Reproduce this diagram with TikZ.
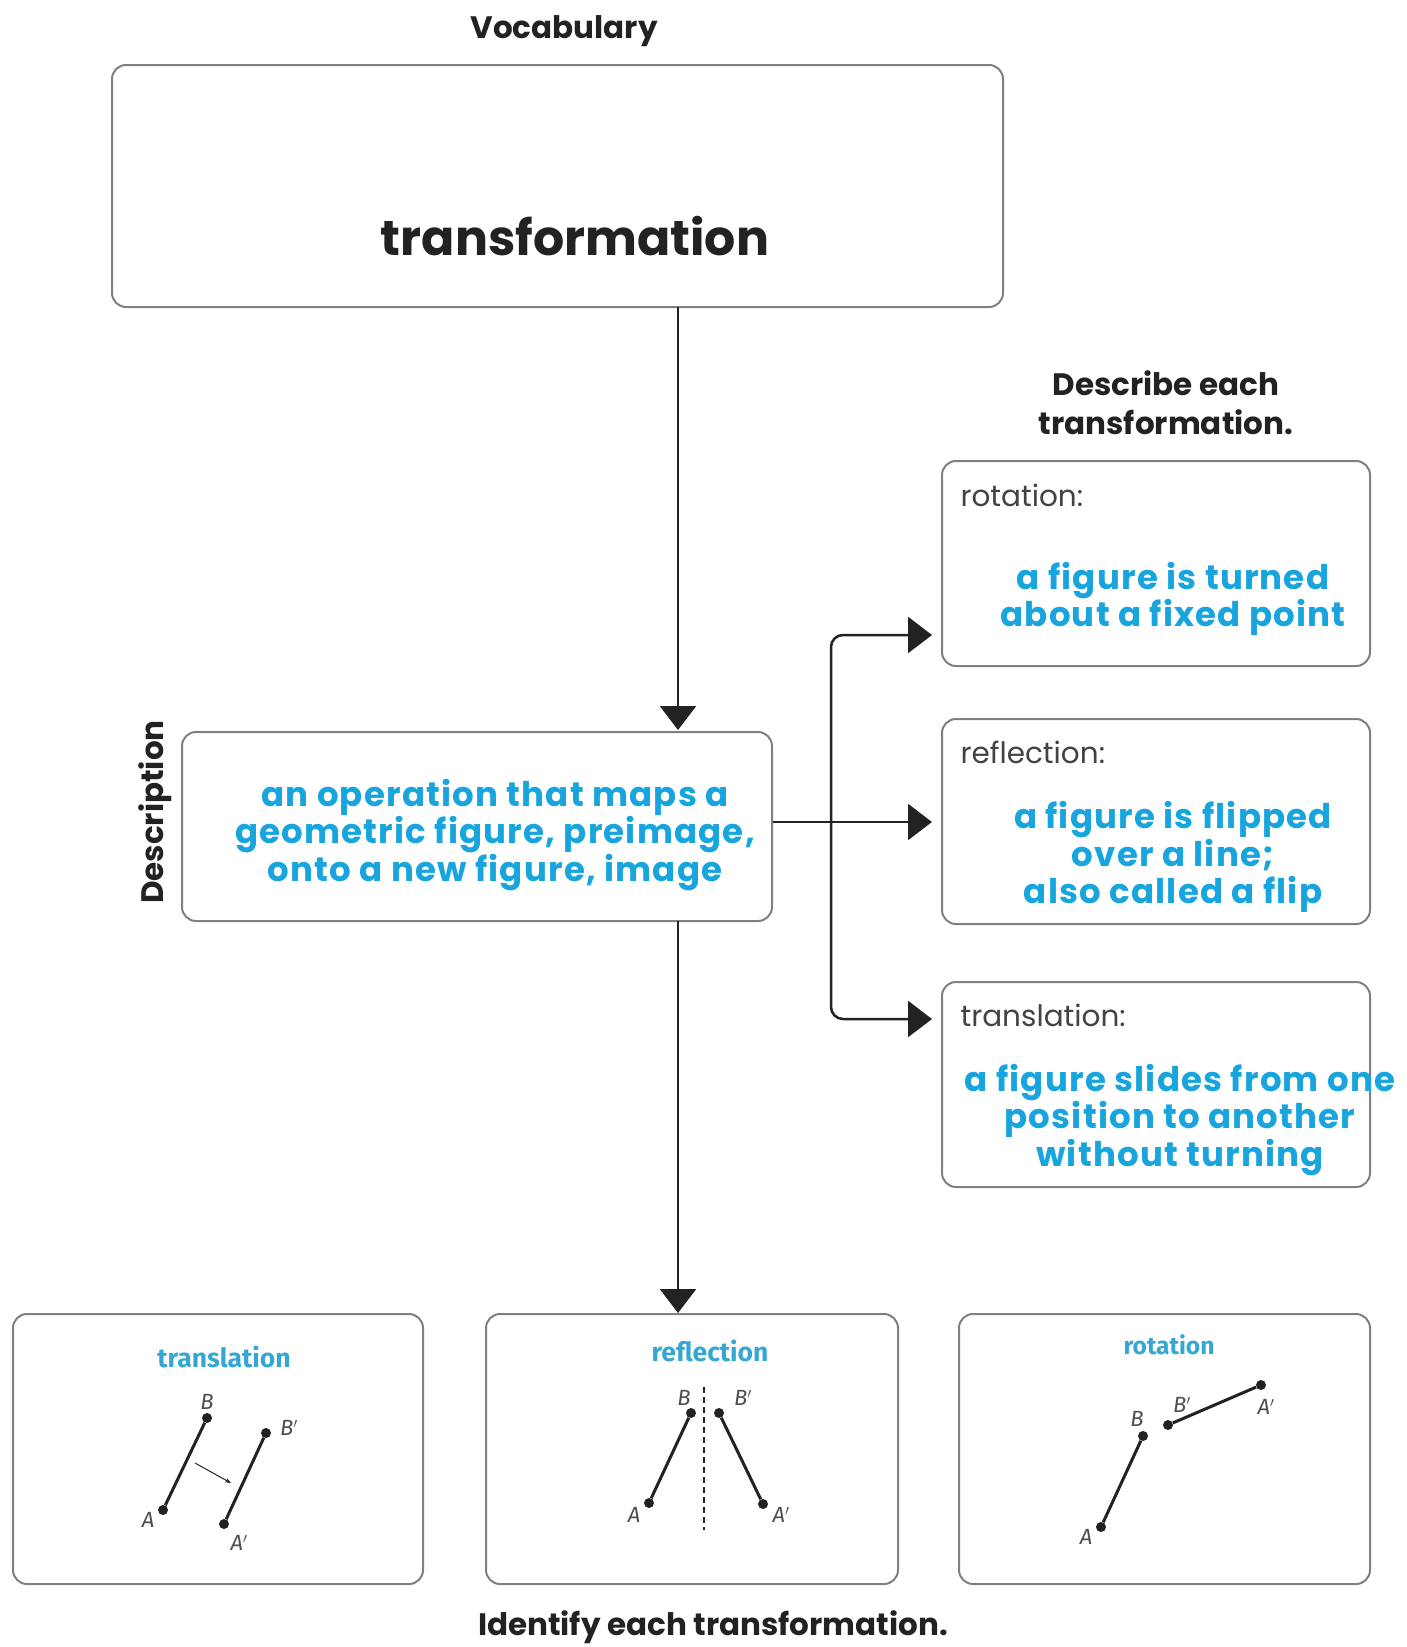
\documentclass[tikz,border=0pt]{standalone}
\usepackage{fontspec}
\setmainfont{Poppins}
\newfontfamily\figfont{Fira Sans}
\usetikzlibrary{arrows.meta,graphs}
\definecolor{ansblue}{HTML}{18A5DE}
\definecolor{tagblue}{HTML}{35A7D2}
\definecolor{boxgray}{HTML}{808080}
\definecolor{ink}{HTML}{222222}

\begin{document}
\begin{tikzpicture}[x=1pt,y=-1pt,
    box/.style={draw=boxgray,line width=2pt,rounded corners=14pt,inner sep=0pt},
    head/.style={font=\fontsize{31}{39}\selectfont\bfseries,text=ink,align=center},
    answer/.style={font=\fontsize{34}{37.5}\selectfont\bfseries\addfontfeatures{LetterSpace=3.5},text=ansblue,align=center},
    tag/.style={font=\fontsize{29.5}{33}\selectfont,text=ink!85,anchor=west},
    kind/.style={font=\figfont\fontsize{26.5}{30}\selectfont\bfseries,text=tagblue},
    flow/.style={ink,line width=2.5pt,-{Triangle[length=24pt,width=36pt]}},
    seg/.style={ink,line width=3pt},
    pt/.style={circle,fill=ink,inner sep=0pt,minimum size=10pt},
    lab/.style={font=\figfont\itshape\fontsize{22}{25}\selectfont,text=ink!80}]
  \useasboundingbox (0,0) rectangle (1406,1647);
    % word and description
    \node[head] (vocab) at (564,31) {Vocabulary};
    \node[box,minimum width=891pt,minimum height=242pt] (word) at (557.5,186) {};
    \node[font=\fontsize{49}{56}\selectfont\bfseries,text=ink] (term) at (575,236) {transformation};
    \node[box,minimum width=590pt,minimum height=189pt] (desc) at (477,826.5) {};
    \node[answer] (desctext) at (495,835) {an operation that maps a\\geometric figure, preimage,\\onto a new figure, image};
    \node[head,rotate=90] (desclab) at (155,812) {Description};
    % kinds, described
    \node[head] (ask) at (1166,403) {Describe each\\transformation.};
    \node[box,minimum width=428pt,minimum height=205pt] (rot) at (1156,563.5) {};
    \node[box,minimum width=428pt,minimum height=205pt] (refl) at (1156,821.5) {};
    \node[box,minimum width=428pt,minimum height=205pt] (trans) at (1156,1084.5) {};
    \node[tag] (rottag) at (957,495) {rotation:};
    \node[tag] (refltag) at (957,752) {reflection:};
    \node[tag] (transtag) at (957,1015) {translation:};
    \node[answer] (rottext) at (1173,599) {a figure is turned\\about a fixed point};
    \node[answer] (refltext) at (1173,857) {a figure is flipped\\over a line;\\also called a flip};
    \node[answer] (transtext) at (1180,1120) {a figure slides from one\\position to another\\without turning};
    % kinds, identified
    \node[box,minimum width=410pt,minimum height=270pt] (idl) at (218,1449) {};
    \node[box,minimum width=412pt,minimum height=270pt] (idm) at (692,1449) {};
    \node[box,minimum width=411pt,minimum height=270pt] (idr) at (1164.5,1449) {};
    \node[head] (idask) at (713,1627) {Identify each transformation.};
    \node[kind] (idltag) at (224,1357) {translation};
    \node[kind] (idmtag) at (710,1351) {reflection};
    \node[kind,font=\figfont\fontsize{24.5}{28}\selectfont\bfseries] (idrtag) at (1169,1345) {rotation};
    % connectors
    \coordinate (down1) at (678,307);
    \coordinate (down2) at (678,730);
    \coordinate (down3) at (678,921);
    \coordinate (down4) at (678,1313);
    \coordinate (split) at (831,822);
    \coordinate (rotin) at (932,635);
    \coordinate (reflin) at (932,822);
    \coordinate (transin) at (932,1019);
  \graph[use existing nodes,edges={flow}] {
    down1 -> down2;
    down3 -> down4;
  };
    \draw[flow] (desc.east |- split) -- (reflin);
    \draw[flow,rounded corners=12pt] (split) |- (rotin);
    \draw[flow,rounded corners=12pt] (split) |- (transin);
    % translation figure
    \node[pt] (tA) at (163,1510) {};
    \node[pt] (tB) at (207,1418) {};
    \node[pt] (tA2) at (224,1524) {};
    \node[pt] (tB2) at (266,1433) {};
    \draw[seg] (tA) -- (tB);
    \draw[seg] (tA2) -- (tB2);
    \coordinate (slide1) at (195,1463);
    \coordinate (slide2) at (231,1483);
    \draw[ink,line width=1pt,-{Stealth[length=6pt]}] (slide1) -- (slide2);
    \node[lab] at (148,1520) {A};
    \node[lab] at (207,1402) {B};
    \node[lab] at (239,1543) {A$'$};
    \node[lab] at (289,1428) {B$'$};
    % reflection figure
    \node[pt] (mA) at (649,1503) {};
    \node[pt] (mB) at (691,1413) {};
    \node[pt] (mA2) at (763,1504) {};
    \node[pt] (mB2) at (719,1413) {};
    \draw[seg] (mA) -- (mB);
    \draw[seg] (mA2) -- (mB2);
    \coordinate (mirror1) at (704,1387);
    \coordinate (mirror2) at (704,1530);
    \draw[ink,line width=1.2pt,dash pattern=on 6pt off 4pt] (mirror1) -- (mirror2);
    \node[lab] at (634,1515) {A};
    \node[lab] at (684,1398) {B};
    \node[lab] at (781,1515) {A$'$};
    \node[lab] at (743,1398) {B$'$};
    % rotation figure
    \node[pt] (rA) at (1101,1527) {};
    \node[pt] (rB) at (1143,1436) {};
    \node[pt] (rA2) at (1261,1385) {};
    \node[pt] (rB2) at (1168,1425) {};
    \draw[seg] (rA) -- (rB);
    \draw[seg] (rA2) -- (rB2);
    \node[lab] at (1086,1537) {A};
    \node[lab] at (1137,1419) {B};
    \node[lab] at (1266,1407) {A$'$};
    \node[lab] at (1182,1405) {B$'$};
\end{tikzpicture}
\end{document}
